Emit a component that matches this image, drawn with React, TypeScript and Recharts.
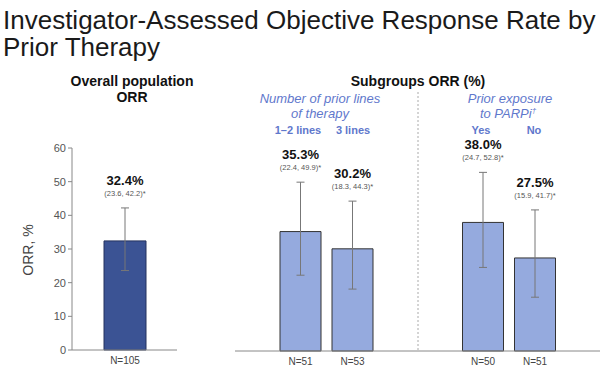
import { Bar, BarChart, ErrorBar, XAxis, YAxis } from 'recharts';

const TITLE = ['Investigator-Assessed Objective Response Rate by', 'Prior Therapy'];

// overall population
const overallN = ['N=105'];
const overallOrr = [32.4];
const overallLow = [23.6];
const overallHigh = [42.2];

// subgroups, in pairs: prior lines (1–2, 3), prior PARPi (yes, no)
const subGroups = ['lines', 'parpi'];
const subN = ['N=51', 'N=53', 'N=50', 'N=51'];
const subOrr = [35.3, 30.2, 38.0, 27.5];
const subLow = [22.4, 18.3, 24.7, 15.9];
const subHigh = [49.9, 44.3, 52.8, 41.7];

const yTicks = [0, 10, 20, 30, 40, 50, 60];

const FONT = '"Liberation Sans", Arial, sans-serif';
const DARK = '#3b5394';
const LIGHT = '#95aade';
const BLUE = '#5f78cc';

const overallData = overallN.map((n, i) => ({
  name: n,
  orr: overallOrr[i],
  err: [overallOrr[i] - overallLow[i], overallHigh[i] - overallOrr[i]],
}));

const subData = subGroups.map((g, gi) => {
  const a = gi * 2;
  const b = gi * 2 + 1;
  return {
    name: g,
    first: subOrr[a],
    second: subOrr[b],
    firstErr: [subOrr[a] - subLow[a], subHigh[a] - subOrr[a]],
    secondErr: [subOrr[b] - subLow[b], subHigh[b] - subOrr[b]],
  };
});

function fmtCI(lo: number, hi: number) {
  return `(${lo.toFixed(1)}, ${hi.toFixed(1)})*`;
}

// percentage + CI above the upper whisker, N below the baseline
function makeLabel(idx: (i: number) => number, lows: number[], highs: number[], ns: string[]) {
  return (props: any) => {
    const { x, y, width, height, value, index } = props;
    if (value == null) return null;
    const k = idx(index);
    const base = y + height;
    const ppu = height / value;
    const hiY = base - highs[k] * ppu;
    const cx = x + width / 2;
    const pctY = hiY - 23;
    return (
      <g key={`lab-${k}`} fontFamily={FONT}>
        <text x={cx} y={pctY} textAnchor="middle" fontSize={13} fontWeight="bold" fill="#111">
          {value.toFixed(1)}%
        </text>
        <text x={cx} y={pctY + 11} textAnchor="middle" fontSize={7.5} fill="#555">
          {fmtCI(lows[k], highs[k])}
        </text>
        <text x={cx} y={base + 14} textAnchor="middle" fontSize={10} fill="#444">
          {ns[k]}
        </text>
      </g>
    );
  };
}

export default function App() {
  return (
    <div style={{ position: 'absolute', left: 0, top: 0, width: 600, height: 369, background: '#fff' }}>
      <div style={{ position: 'absolute', left: 0, top: 0 }}>
        <BarChart width={180} height={369} data={overallData} margin={{ top: 148, right: 3, bottom: 0, left: 0 }}>
          <XAxis dataKey="name" tick={false} tickLine={false} height={19} stroke="#888" />
          <YAxis
            domain={[0, 60]}
            ticks={yTicks}
            width={72}
            tickSize={4}
            stroke="#888"
            tick={{ fontSize: 11, fill: '#555', fontFamily: FONT }}
          />
          <Bar
            dataKey="orr"
            fill={DARK}
            stroke="#24325e"
            strokeWidth={1}
            barSize={42}
            isAnimationActive={false}
            label={makeLabel((i) => i, overallLow, overallHigh, overallN)}
          >
            <ErrorBar dataKey="err" width={4} stroke="#777" strokeWidth={1} />
          </Bar>
        </BarChart>
      </div>
      <div style={{ position: 'absolute', left: 0, top: 0 }}>
        <BarChart
          width={600}
          height={369}
          data={subData}
          margin={{ top: 148, right: 0, bottom: 0, left: 235 }}
          barGap={11}
        >
          <XAxis dataKey="name" tick={false} tickLine={false} height={18} stroke="#888" />
          <YAxis hide domain={[0, 60]} />
          <Bar
            dataKey="first"
            fill={LIGHT}
            stroke="#333"
            strokeWidth={1}
            barSize={41}
            isAnimationActive={false}
            label={makeLabel((i) => i * 2, subLow, subHigh, subN)}
          >
            <ErrorBar dataKey="firstErr" width={4} stroke="#777" strokeWidth={1} />
          </Bar>
          <Bar
            dataKey="second"
            fill={LIGHT}
            stroke="#333"
            strokeWidth={1}
            barSize={41}
            isAnimationActive={false}
            label={makeLabel((i) => i * 2 + 1, subLow, subHigh, subN)}
          >
            <ErrorBar dataKey="secondErr" width={4} stroke="#777" strokeWidth={1} />
          </Bar>
        </BarChart>
      </div>
      <svg
        width={600}
        height={369}
        style={{ position: 'absolute', left: 0, top: 0, pointerEvents: 'none' }}
        fontFamily={FONT}
      >
        <text x={3} y={29} fontSize={26} fill="#1a1a1a">{TITLE[0]}</text>
        <text x={3} y={56} fontSize={26} fill="#1a1a1a">{TITLE[1]}</text>

        <text x={132} y={86} textAnchor="middle" fontSize={14} fontWeight="bold" fill="#111">Overall population</text>
        <text x={132} y={102} textAnchor="middle" fontSize={14} fontWeight="bold" fill="#111">ORR</text>
        <text x={418} y={86} textAnchor="middle" fontSize={14} fontWeight="bold" fill="#111">Subgroups ORR (%)</text>

        <g fontStyle="italic" fontSize={13} fill={BLUE} textAnchor="middle">
          <text x={320} y={103}>Number of prior lines</text>
          <text x={320} y={118}>of therapy</text>
          <text x={510} y={103}>Prior exposure</text>
          <text x={508} y={118}>
            to PARPi<tspan fontSize={8} dy={-5}>†</tspan>
          </text>
        </g>
        <g fontWeight="bold" fontSize={11} fill={BLUE} textAnchor="middle">
          <text x={298} y={134}>1–2 lines</text>
          <text x={353} y={134}>3 lines</text>
          <text x={481} y={134}>Yes</text>
          <text x={534} y={134}>No</text>
        </g>

        <line x1={418} y1={92} x2={418} y2={351} stroke="#aaa" strokeWidth={1} strokeDasharray="2 2" />

        <text
          x={33}
          y={250}
          transform="rotate(-90 33 250)"
          textAnchor="middle"
          fontSize={14}
          fill="#444"
        >
          ORR, %
        </text>
      </svg>
    </div>
  );
}
